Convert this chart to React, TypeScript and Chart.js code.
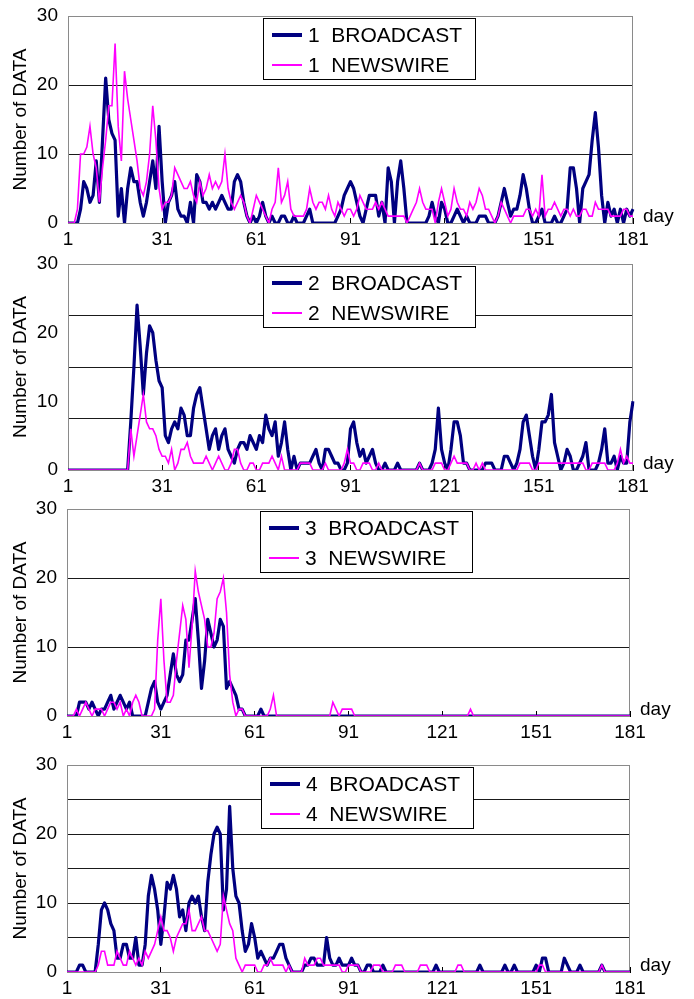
import React, { useEffect, useRef } from 'react';
import { Chart, registerables } from 'chart.js';

Chart.register(...registerables);

// ---------- data ----------
const days: string[] = Array.from({ length: 181 }, (_, i) => String(i + 1));
const xTickLabels = ['1', '31', '61', '91', '121', '151', '181'];
const yTickLabels = ['0', '10', '20', '30'];
const seriesNames = ['BROADCAST', 'NEWSWIRE'];

const broadcast1 = [
  0, 0, 0, 0, 2, 6, 5, 3, 4, 9,
  3, 12, 21, 15, 13, 12, 1, 5, 0, 5,
  8, 6, 6, 3, 1, 3, 6, 9, 5, 14,
  6, 0, 3, 4, 6, 2, 1, 1, 0, 3,
  0, 7, 6, 3, 3, 2, 3, 2, 3, 4,
  3, 2, 2, 6, 7, 6, 3, 1, 0, 1,
  0, 1, 3, 1, 0, 1, 0, 0, 1, 1,
  0, 0, 1, 0, 0, 0, 1, 2, 0, 0,
  0, 0, 0, 0, 0, 0, 1, 2, 4, 5,
  6, 5, 3, 1, 0, 2, 4, 4, 4, 1,
  3, 0, 8, 6, 0, 6, 9, 5, 0, 0,
  0, 0, 0, 0, 0, 1, 3, 1, 0, 3,
  2, 0, 0, 1, 2, 1, 0, 1, 0, 0,
  0, 1, 1, 1, 0, 0, 0, 1, 3, 5,
  3, 1, 2, 2, 4, 7, 5, 2, 0, 0,
  1, 2, 0, 0, 0, 1, 0, 0, 1, 2,
  8, 8, 5, 0, 5, 6, 7, 12, 16, 11,
  4, 0, 3, 1, 2, 0, 2, 0, 2, 1,
  2,
];
const newswire1 = [
  0, 0, 0, 2, 10, 10, 11, 14, 10, 8,
  3, 8, 12, 17, 17, 26, 14, 9, 22, 18,
  15, 12, 9, 5, 4, 6, 10, 17, 12, 5,
  2, 3, 3, 4, 8, 7, 6, 5, 5, 6,
  4, 3, 6, 4, 5, 7, 5, 6, 5, 6,
  10, 5, 3, 2, 3, 4, 3, 1, 0, 2,
  4, 3, 2, 1, 0, 2, 3, 8, 3, 4,
  6, 2, 1, 1, 1, 1, 2, 5, 3, 2,
  3, 3, 2, 4, 2, 1, 3, 2, 1, 2,
  2, 1, 2, 4, 3, 2, 2, 2, 3, 2,
  3, 2, 1, 1, 1, 1, 1, 1, 0, 1,
  2, 3, 5, 3, 2, 2, 2, 0, 3, 5,
  3, 1, 2, 5, 3, 2, 2, 1, 3, 2,
  3, 5, 4, 2, 2, 1, 0, 1, 3, 2,
  1, 0, 1, 1, 1, 1, 2, 2, 1, 2,
  1, 7, 1, 2, 2, 3, 2, 1, 2, 2,
  1, 2, 1, 1, 2, 2, 1, 1, 3, 2,
  2, 2, 2, 1, 1, 1, 1, 2, 2, 1,
  1,
];
const broadcast2 = [
  0, 0, 0, 0, 0, 0, 0, 0, 0, 0,
  0, 0, 0, 0, 0, 0, 0, 0, 0, 0,
  7, 15, 24, 18, 11, 17, 21, 20, 16, 13,
  12, 5, 4, 6, 7, 6, 9, 8, 5, 5,
  9, 11, 12, 9, 6, 3, 5, 6, 3, 5,
  6, 3, 2, 1, 3, 4, 4, 3, 5, 4,
  3, 5, 4, 8, 6, 5, 7, 2, 4, 7,
  3, 0, 2, 0, 1, 1, 1, 1, 2, 3,
  1, 0, 3, 3, 2, 1, 1, 0, 0, 1,
  6, 7, 4, 2, 3, 1, 2, 3, 1, 0,
  0, 1, 0, 0, 0, 1, 0, 0, 0, 0,
  0, 0, 1, 0, 0, 0, 1, 3, 9, 3,
  1, 0, 3, 7, 7, 5, 1, 1, 0, 0,
  0, 0, 0, 1, 1, 1, 0, 0, 0, 2,
  2, 1, 0, 1, 3, 7, 8, 5, 2, 0,
  3, 7, 7, 8, 11, 4, 2, 0, 1, 3,
  2, 0, 0, 1, 2, 4, 0, 0, 0, 1,
  3, 6, 1, 1, 2, 0, 2, 1, 1, 7,
  10,
];
const newswire2 = [
  0, 0, 0, 0, 0, 0, 0, 0, 0, 0,
  0, 0, 0, 0, 0, 0, 0, 0, 0, 0,
  6, 2, 5, 8, 11, 7, 6, 6, 5, 3,
  2, 2, 1, 3, 0, 1, 3, 3, 4, 2,
  1, 1, 1, 1, 2, 1, 0, 1, 2, 1,
  0, 0, 1, 3, 3, 1, 0, 0, 1, 1,
  0, 0, 1, 1, 1, 2, 1, 0, 2, 0,
  0, 0, 0, 0, 1, 1, 1, 1, 0, 0,
  0, 0, 1, 0, 0, 0, 0, 0, 1, 3,
  1, 1, 0, 0, 1, 1, 1, 0, 0, 1,
  0, 0, 0, 0, 0, 0, 0, 0, 0, 0,
  0, 0, 1, 0, 0, 0, 0, 1, 1, 1,
  0, 0, 1, 2, 1, 1, 1, 1, 0, 0,
  1, 0, 1, 0, 0, 0, 0, 0, 0, 0,
  0, 0, 0, 0, 1, 1, 1, 1, 0, 0,
  1, 1, 1, 1, 1, 1, 1, 1, 1, 1,
  1, 1, 1, 1, 1, 0, 0, 1, 1, 1,
  1, 1, 0, 0, 0, 1, 3, 1, 2, 1,
  1,
];
const broadcast3 = [
  0, 0, 0, 0, 2, 2, 2, 1, 2, 1,
  0, 1, 1, 2, 3, 1, 2, 3, 2, 1,
  2, 0, 0, 0, 0, 0, 2, 4, 5, 2,
  1, 2, 3, 6, 9, 6, 5, 6, 11, 11,
  14, 17, 11, 4, 8, 14, 12, 10, 11, 14,
  13, 4, 5, 4, 3, 1, 1, 0, 0, 0,
  0, 0, 1, 0, 0, 0, 0, 0, 0, 0,
  0, 0, 0, 0, 0, 0, 0, 0, 0, 0,
  0, 0, 0, 0, 0, 0, 0, 0, 0, 0,
  0, 0, 0, 0, 0, 0, 0, 0, 0, 0,
  0, 0, 0, 0, 0, 0, 0, 0, 0, 0,
  0, 0, 0, 0, 0, 0, 0, 0, 0, 0,
  0, 0, 0, 0, 0, 0, 0, 0, 0, 0,
  0, 0, 0, 0, 0, 0, 0, 0, 0, 0,
  0, 0, 0, 0, 0, 0, 0, 0, 0, 0,
  0, 0, 0, 0, 0, 0, 0, 0, 0, 0,
  0, 0, 0, 0, 0, 0, 0, 0, 0, 0,
  0, 0, 0, 0, 0, 0, 0, 0, 0, 0,
  0,
];
const newswire3 = [
  0, 0, 0, 1, 0, 1, 2, 1, 0, 1,
  1, 1, 0, 1, 2, 2, 1, 2, 0, 1,
  0, 2, 3, 2, 0, 0, 0, 0, 1, 11,
  17, 8, 2, 2, 3, 8, 12, 16, 14, 7,
  13, 21, 18, 16, 14, 10, 10, 12, 17, 18,
  20, 15, 6, 2, 0, 1, 1, 0, 0, 0,
  0, 0, 0, 0, 0, 1, 3, 0, 0, 0,
  0, 0, 0, 0, 0, 0, 0, 0, 0, 0,
  0, 0, 0, 0, 0, 2, 1, 0, 1, 1,
  1, 1, 0, 0, 0, 0, 0, 0, 0, 0,
  0, 0, 0, 0, 0, 0, 0, 0, 0, 0,
  0, 0, 0, 0, 0, 0, 0, 0, 0, 0,
  0, 0, 0, 0, 0, 0, 0, 0, 0, 1,
  0, 0, 0, 0, 0, 0, 0, 0, 0, 0,
  0, 0, 0, 0, 0, 0, 0, 0, 0, 0,
  0, 0, 0, 0, 0, 0, 0, 0, 0, 0,
  0, 0, 0, 0, 0, 0, 0, 0, 0, 0,
  0, 0, 0, 0, 0, 0, 0, 0, 0, 0,
  0,
];
const broadcast4 = [
  0, 0, 0, 0, 1, 1, 0, 0, 0, 0,
  4, 9, 10, 9, 7, 6, 2, 2, 4, 4,
  2, 2, 5, 1, 1, 4, 11, 14, 12, 9,
  4, 8, 13, 12, 14, 12, 8, 9, 6, 10,
  11, 10, 11, 8, 6, 13, 17, 20, 21, 20,
  9, 12, 24, 15, 11, 10, 6, 3, 4, 7,
  5, 2, 3, 2, 1, 2, 2, 3, 4, 4,
  2, 1, 0, 0, 0, 0, 1, 1, 2, 2,
  1, 1, 1, 5, 2, 1, 1, 2, 1, 1,
  1, 2, 1, 1, 0, 0, 1, 1, 0, 0,
  0, 1, 0, 0, 0, 0, 0, 0, 0, 0,
  0, 0, 0, 0, 0, 0, 0, 0, 1, 0,
  0, 0, 0, 0, 0, 0, 0, 0, 0, 0,
  0, 0, 1, 0, 0, 0, 0, 0, 0, 0,
  1, 0, 0, 1, 0, 0, 0, 0, 0, 0,
  1, 0, 2, 2, 0, 0, 0, 0, 0, 2,
  1, 0, 0, 0, 1, 0, 0, 0, 0, 0,
  0, 1, 0, 0, 0, 0, 0, 0, 0, 0,
  0,
];
const newswire4 = [
  0, 0, 0, 0, 0, 0, 0, 0, 0, 0,
  1, 3, 3, 1, 1, 1, 3, 2, 1, 1,
  3, 2, 1, 2, 1, 3, 2, 3, 4, 6,
  8, 6, 6, 5, 3, 5, 6, 7, 7, 9,
  6, 6, 7, 8, 6, 6, 5, 4, 3, 4,
  11, 9, 7, 6, 2, 1, 0, 1, 1, 1,
  1, 0, 0, 1, 1, 2, 1, 1, 1, 1,
  0, 1, 0, 0, 0, 0, 2, 1, 1, 1,
  2, 2, 1, 1, 1, 1, 1, 1, 0, 0,
  1, 1, 1, 1, 0, 0, 0, 0, 1, 1,
  1, 0, 0, 0, 0, 1, 1, 1, 0, 0,
  0, 0, 0, 1, 1, 1, 0, 0, 0, 0,
  0, 0, 0, 0, 0, 1, 1, 0, 0, 0,
  0, 0, 0, 0, 0, 0, 0, 0, 0, 0,
  0, 0, 0, 0, 0, 0, 0, 0, 0, 0,
  0, 1, 1, 0, 0, 0, 0, 0, 0, 0,
  0, 0, 0, 0, 0, 0, 0, 0, 0, 0,
  0, 1, 0, 0, 0, 0, 0, 0, 0, 0,
  0,
];

// ---------- layout ----------
const FONT = '"Liberation Sans", Arial, sans-serif';
const PAD_TOP = 12;
const X_AXIS_H = 28;
const W = 694;

type PanelCfg = {
  id: number;
  plotTop: number;
  plotBottom: number;
  left: number;
  right: number;
  tickStep: number;
  gridStep: number;
  legendDx: number;
  broadcast: number[];
  newswire: number[];
};

const panels: PanelCfg[] = [
  { id: 1, plotTop: 16, plotBottom: 223, left: 68, right: 633, tickStep: 10, gridStep: 10, legendDx: 195, broadcast: broadcast1, newswire: newswire1 },
  { id: 2, plotTop: 264, plotBottom: 470, left: 68, right: 633, tickStep: 2.5, gridStep: 7.5, legendDx: 195, broadcast: broadcast2, newswire: newswire2 },
  { id: 3, plotTop: 509, plotBottom: 716, left: 67, right: 630, tickStep: 10, gridStep: 10, legendDx: 193, broadcast: broadcast3, newswire: newswire3 },
  { id: 4, plotTop: 765, plotBottom: 972, left: 67, right: 630, tickStep: 5, gridStep: 5, legendDx: 194, broadcast: broadcast4, newswire: newswire4 },
];

const isMultiple = (v: number, s: number) => Math.abs(v / s - Math.round(v / s)) < 1e-6;

function makeDecorPlugin(cfg: PanelCfg) {
  return {
    id: 'decor' + cfg.id,
    beforeDatasetsDraw(chart: any) {
      const { ctx, chartArea: a } = chart;
      ctx.save();
      ctx.strokeStyle = '#8a8a8a';
      ctx.lineWidth = 1;
      ctx.strokeRect(a.left + 0.5, a.top + 0.5, a.right - a.left - 1, a.bottom - a.top);
      ctx.restore();
    },
    afterDraw(chart: any) {
      const { ctx, chartArea: a } = chart;
      ctx.save();
      // "day" axis label
      ctx.fillStyle = '#000';
      ctx.font = `19px ${FONT}`;
      ctx.textAlign = 'left';
      ctx.textBaseline = 'alphabetic';
      ctx.fillText('day', a.right + 10, a.bottom - 1);

      // legend box
      const x = a.left + cfg.legendDx;
      const y = a.top + 2;
      const w = 212;
      const h = 61;
      ctx.fillStyle = '#fff';
      ctx.fillRect(x, y, w, h);
      ctx.strokeStyle = '#000';
      ctx.lineWidth = 1;
      ctx.strokeRect(x + 0.5, y + 0.5, w, h);
      chart.data.datasets.forEach((ds: any, i: number) => {
        const cy = y + 17 + i * 30;
        ctx.strokeStyle = ds.borderColor;
        ctx.lineWidth = i === 0 ? 4 : 2;
        ctx.beginPath();
        ctx.moveTo(x + 9, cy);
        ctx.lineTo(x + 39, cy);
        ctx.stroke();
        ctx.fillStyle = '#000';
        ctx.font = `21px ${FONT}`;
        ctx.textBaseline = 'middle';
        ctx.fillText(ds.label, x + 45, cy + 1);
      });
      ctx.restore();
    },
  };
}

function Panel({ cfg }: { cfg: PanelCfg }) {
  const ref = useRef<HTMLCanvasElement>(null);
  const H = cfg.plotBottom - cfg.plotTop + PAD_TOP + X_AXIS_H;

  useEffect(() => {
    const canvas = ref.current;
    if (!canvas) return;
    const chart = new Chart(canvas, {
      type: 'line',
      data: {
        labels: days,
        datasets: [
          {
            label: `${cfg.id}  ${seriesNames[0]}`,
            data: cfg.broadcast,
            borderColor: '#000080',
            backgroundColor: '#000080',
            borderWidth: 3.2,
            borderJoinStyle: 'round',
            pointRadius: 0,
            tension: 0,
            order: 1,
          },
          {
            label: `${cfg.id}  ${seriesNames[1]}`,
            data: cfg.newswire,
            borderColor: '#FF00FF',
            backgroundColor: '#FF00FF',
            borderWidth: 1.6,
            pointRadius: 0,
            tension: 0,
            order: 0,
          },
        ],
      },
      options: {
        responsive: false,
        animation: false,
        devicePixelRatio: 1,
        events: [],
        layout: { padding: { top: PAD_TOP, left: 0, right: W - cfg.right, bottom: 0 } },
        plugins: { legend: { display: false }, tooltip: { enabled: false } },
        scales: {
          x: {
            type: 'category',
            afterFit: (s: any) => {
              s.height = X_AXIS_H;
              s.paddingLeft = 0;
              s.paddingRight = 0;
            },
            border: { display: true, color: '#000', width: 1 },
            grid: {
              drawOnChartArea: false,
              drawTicks: true,
              tickLength: -5,
              color: (c: any) => (c.index % 30 === 0 ? '#000' : 'rgba(0,0,0,0)'),
            },
            ticks: {
              autoSkip: false,
              maxRotation: 0,
              minRotation: 0,
              padding: 10,
              color: '#000',
              font: { family: FONT, size: 19 },
              callback: (_v: any, i: number) => (xTickLabels.includes(days[i]) && i % 30 === 0 ? days[i] : ''),
            },
          },
          y: {
            min: 0,
            max: 30,
            afterFit: (s: any) => {
              s.width = cfg.left;
              s.paddingTop = 0;
              s.paddingBottom = 0;
            },
            border: { display: true, color: '#666', width: 1 },
            grid: {
              drawTicks: false,
              lineWidth: 1,
              color: (c: any) => {
                const v = c.tick.value;
                return v > 0 && v < 30 && isMultiple(v, cfg.gridStep) ? '#1a1a1a' : 'rgba(0,0,0,0)';
              },
            },
            ticks: {
              stepSize: cfg.tickStep,
              maxTicksLimit: 40,
              padding: 10,
              color: '#000',
              font: { family: FONT, size: 19, lineHeight: 0.5 },
              callback: (v: any) => (yTickLabels.includes(String(v)) ? String(v) : ''),
            },
            title: {
              display: true,
              text: 'Number of DATA',
              color: '#000',
              font: { family: FONT, size: 19 },
              padding: { top: 9, bottom: 0 },
            },
          },
        },
      },
      plugins: [makeDecorPlugin(cfg)],
    } as any);
    return () => chart.destroy();
  }, [cfg]);

  return (
    <canvas
      ref={ref}
      width={W}
      height={H}
      style={{ position: 'absolute', left: 0, top: cfg.plotTop - PAD_TOP, width: W, height: H }}
    />
  );
}

export default function App() {
  return (
    <div style={{ position: 'absolute', left: 0, top: 0, width: W, height: 999, background: '#fff', overflow: 'hidden' }}>
      {panels.map((p) => (
        <Panel key={p.id} cfg={p} />
      ))}
    </div>
  );
}
